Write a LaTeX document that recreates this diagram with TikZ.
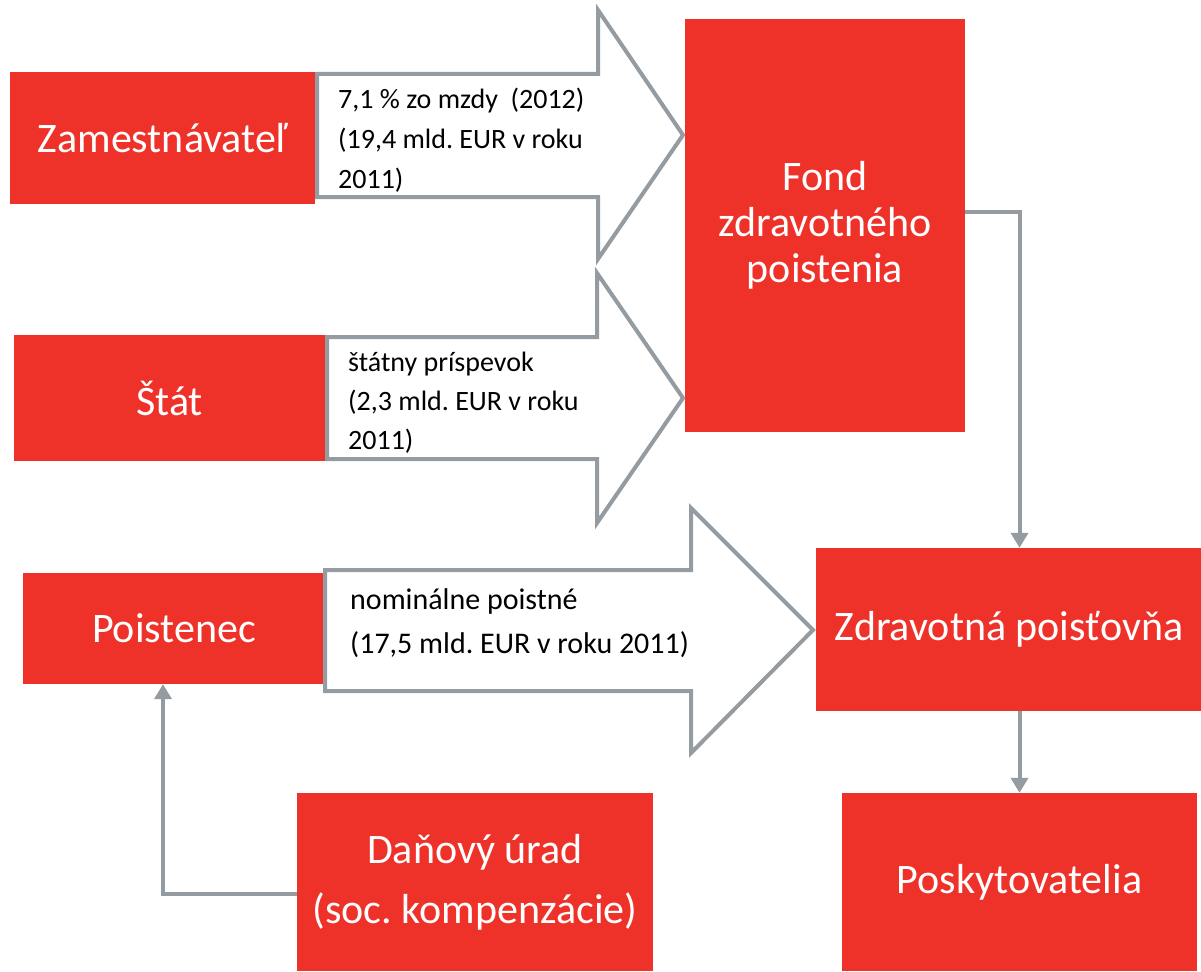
\documentclass[tikz,border=0pt]{standalone}
\usepackage{fontspec}
\setmainfont{Carlito}
\usetikzlibrary{arrows.meta, positioning, calc}
\definecolor{fundred}{RGB}{238,50,42}
\definecolor{flowgrey}{RGB}{148,155,161}
\frenchspacing

\begin{document}
\begin{tikzpicture}[
  x=1pt, y=-1pt,
  box/.style={fill=fundred, draw=none, text=white, align=center, inner sep=0pt,
              font=\fontsize{42}{46}\selectfont},
  flow/.style={draw=flowgrey, fill=white, line width=4pt, line join=miter},
  note/.style={anchor=north west, align=left, inner sep=0pt, text=black,
               font=\fontsize{28}{40}\selectfont},
  ar/.style={-{Triangle[length=15pt,width=17pt]}, line width=4pt, flowgrey},
]
\useasboundingbox (0,0) rectangle (1201,971);

% ---- who pays ----
\node[box, minimum width=305pt, minimum height=132pt] (zam) at (162.5,138) {Zamestnávateľ};
\node[box, minimum width=311pt, minimum height=126pt] (stat) at (169.5,398) {Štát};
\node[box, minimum width=302pt, minimum height=111pt] (poist) at (174,628.5) {Poistenec};
\node[box, minimum width=356pt, minimum height=178pt,
      font=\fontsize{42}{60}\selectfont] (dan) at (475,882) {Daňový úrad\\(soc. kompenzácie)};

% ---- who collects and who is paid ----
\node[box, minimum width=280pt, minimum height=413pt] (fond) at (825,225.5) {Fond\\zdravotného\\poistenia};
\node[box, minimum width=387pt, minimum height=163pt] (zp) at (1009,629.5) {Zdravotná poisťovňa};
\node[box, minimum width=355pt, minimum height=178pt] (posk) at (1019.5,882) {Poskytovatelia};

% ---- block arrows (money flows) ----
\draw[flow] (317,74) -- (598,74) -- (598,10) -- (683,135) -- (598,259) -- (598,197) -- (317,197) -- cycle;
\draw[flow] (327,337) -- (597,337) -- (597,273) -- (683,398) -- (597,523) -- (597,459) -- (327,459) -- cycle;
\draw[flow] (325,570) -- (691,570) -- (691,508) -- (813,630) -- (691,753) -- (691,691) -- (325,691) -- cycle;

\node[note] (noteA) at (338,88) {7,1 \% zo mzdy~~(2012)\\(19,4 mld. EUR v roku\\2011)};
\node[note, font=\fontsize{28}{39}\selectfont] (noteB) at (348,352) {štátny príspevok\\(2,3 mld. EUR v roku\\2011)};
\node[note, font=\fontsize{30}{44}\selectfont] (noteC) at (350,588) {nominálne poistné\\(17,5 mld. EUR v roku 2011)};

% ---- connectors ----
\draw[ar] ([yshift=13.5pt]fond.east) -| (posk.north |- zp.north);
\draw[ar] (zp.south -| posk.north) -- (posk.north);
\draw[ar] ([yshift=-12pt]dan.west) -| ([xshift=-11pt]poist.south);
\end{tikzpicture}
\end{document}
